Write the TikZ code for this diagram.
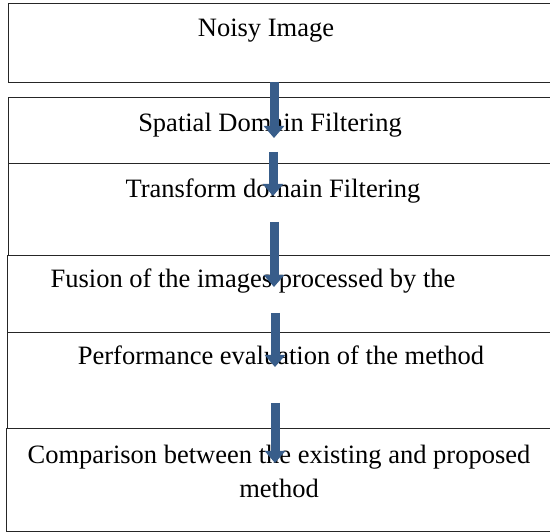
\documentclass[tikz,border=0pt]{standalone}
\usepackage{fontspec}
\setmainfont{Liberation Serif}
\usetikzlibrary{arrows.meta,positioning,calc}
\definecolor{flowblue}{RGB}{56,93,138}

\begin{document}
\begin{tikzpicture}[x=1pt, y=-1pt,
    stage/.style={rectangle, draw=black!85, line width=0.9pt, fill=white, minimum width=545pt, anchor=north west, inner sep=0pt},
    stagetext/.style={anchor=base, font=\fontsize{26.5}{34}\selectfont, align=center, inner sep=0pt},
    arrow/.style={-{Triangle[width=20pt,length=12pt]}, line width=9pt, draw=flowblue}
  ]
    \clip (0,0) rectangle (550,532);
    \node[stage, minimum height=79pt] (b1) at (8,3) {};
    \node[stage, minimum height=90pt] (b2) at (8,97) {};
    \node[stage, minimum height=92pt] (b3) at (8,163) {};
    \node[stage, minimum height=77pt] (b4) at (7,255) {};
    \node[stage, minimum height=96pt] (b5) at (7,332) {};
    \node[stage, minimum height=103pt] (b6) at (6,428) {};
    \node[stagetext] (t1) at (266,37) {Noisy Image};
    \node[stagetext] (t2) at (270,132) {Spatial Domain Filtering};
    \node[stagetext] (t3) at (273,198) {Transform domain Filtering};
    \node[stagetext] (t4) at (253,288) {Fusion of the images processed by the};
    \node[stagetext] (t5) at (281,365) {Performance evaluation of the method};
    \node[stagetext] (t6) at (279,497) {Comparison between the existing and proposed\\method};
    % arrows run over the box texts
    \coordinate (s1) at (274,82);  \coordinate (e1) at (274,138);
    \coordinate (s2) at (273,152); \coordinate (e2) at (273,196);
    \coordinate (s3) at (274,222); \coordinate (e3) at (274,287);
    \coordinate (s4) at (275,313); \coordinate (e4) at (275,367);
    \coordinate (s5) at (275,403); \coordinate (e5) at (275,463);
    \draw[arrow] (s1) -- (e1);
    \draw[arrow] (s2) -- (e2);
    \draw[arrow] (s3) -- (e3);
    \draw[arrow] (s4) -- (e4);
    \draw[arrow] (s5) -- (e5);
  \end{tikzpicture}
\end{document}
